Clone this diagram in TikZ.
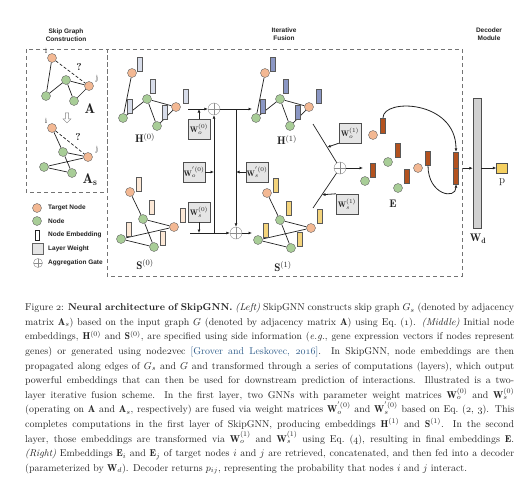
\documentclass[tikz,border=0pt]{standalone}
\usepackage{amsmath}
\usepackage{fontspec}
\newfontfamily\headfont{Liberation Sans}
\usetikzlibrary{arrows.meta,shapes.arrows}
\definecolor{ink}{HTML}{222222}
\definecolor{peach}{HTML}{F3B893}
\definecolor{leaf}{HTML}{A8CD97}
\definecolor{hpale}{HTML}{D8DDEA}
\definecolor{hdeep}{HTML}{8B97C4}
\definecolor{spale}{HTML}{FCE8D6}
\definecolor{sdeep}{HTML}{F4D47C}
\definecolor{rust}{HTML}{B3521F}
\definecolor{gold}{HTML}{F5D060}
\definecolor{cite}{HTML}{2E5C8A}

\tikzset{
  tgt/.style={circle,draw=ink!70,fill=peach,minimum size=9pt,inner sep=0pt},
  nd/.style={circle,draw=ink!70,fill=leaf,minimum size=9pt,inner sep=0pt},
  emb/.style={draw=ink!75,fill=#1,minimum width=5pt,minimum height=14pt,inner sep=0pt},
  wbox/.style={draw=ink!80,fill=black!10,minimum width=22pt,minimum height=20pt,
    inner sep=0pt,font=\fontsize{8}{8}\selectfont},
  gate/.style={circle,draw=black!45,minimum size=12pt,inner sep=0pt,
    path picture={\draw[black!45] (path picture bounding box.north)--(path picture bounding box.south)
      (path picture bounding box.west)--(path picture bounding box.east);}},
  link/.style={ink,line width=.7pt},
  flow/.style={ink,line width=.8pt,->},
  panel/.style={black!55,dash pattern=on 4pt off 3pt,line width=.6pt},
  heading/.style={font=\headfont\bfseries\fontsize{6.5}{7.5}\selectfont,align=center},
  legtext/.style={font=\headfont\bfseries\fontsize{6.5}{7.5}\selectfont,anchor=west,inner sep=0pt},
  lab/.style={font=\fontsize{11}{11}\selectfont,inner sep=0pt},
  tiny/.style={font=\fontsize{8}{8}\selectfont,inner sep=0pt},
}

\begin{document}
\begin{tikzpicture}[x=1pt,y=-1pt,>={Latex[length=3.5pt,width=3pt]},text=ink]
  \useasboundingbox (0,0) rectangle (527,501);

  % headings and frames
  \node[heading] (t1) at (66,35) {Skip Graph\\Construction};
  \node[heading] (t2) at (284,34) {Iterative\\Fusion};
  \node[heading] (t3) at (489,34) {Decoder\\Module};
  \draw[panel] (26,49) rectangle (107,192);
  \draw[panel] (107,49) rectangle (462,276);

  % skip graph construction
  \node[tgt] (ai) at (52,58) {};
  \node[nd] (am) at (66,80) {};
  \node[tgt] (aj) at (89,86) {};
  \node[nd] (al) at (46,96) {};
  \node[nd] (ar) at (74,101) {};
  \draw[link] (ai)--(al) (al)--(am) (am)--(aj) (am)--(ar) (ar)--(aj);
  \draw[link,dash pattern=on 3pt off 2pt] (ai)--(aj);
  \node[tiny] (ail) at (46,51) {i};
  \node[tiny] (ajl) at (97,79) {j};
  \node[tiny,font=\bfseries\fontsize{10}{10}\selectfont] (aq) at (79,67) {?};
  \node[lab,font=\fontsize{14}{14}\selectfont] (alab) at (90,109) {$\mathbf{A}$};
  \node[single arrow,draw=black!50,fill=white,shape border rotate=270,minimum height=10pt,
    minimum width=8pt,single arrow head extend=1.5pt,inner sep=.8pt] (down) at (67,117) {};

  \node[tgt] (bi) at (52,128) {};
  \node[nd] (bm) at (63,152) {};
  \node[tgt] (bj) at (88,157) {};
  \node[nd] (bl) at (44,167) {};
  \node[nd] (br) at (72,173) {};
  \draw[link] (bi)--(bm) (bm)--(bj) (bl)--(bj) (bm)--(br) (bl)--(br);
  \draw[link,dash pattern=on 3pt off 2pt] (bi)--(bj);
  \node[tiny] (bil) at (46,121) {i};
  \node[tiny] (bjl) at (97,150) {j};
  \node[tiny,font=\bfseries\fontsize{10}{10}\selectfont] (bq) at (78,137) {?};
  \node[lab,font=\fontsize{14}{14}\selectfont] (blab) at (90,180) {$\mathbf{A}_{\mathbf{s}}$};

  % legend
  \node[tgt] (ktgt) at (37,208) {};
  \node[legtext] (ktgtl) at (48,208) {Target Node};
  \node[nd] (knd) at (37,221) {};
  \node[legtext] (kndl) at (48,221) {Node};
  \node[draw=ink,fill=white,minimum width=4pt,minimum height=10pt,inner sep=0pt] (kemb) at (37,235) {};
  \node[legtext] (kembl) at (48,235) {Node Embedding};
  \node[draw=ink!70,fill=black!10,minimum size=11pt,inner sep=0pt] (kw) at (38,249) {};
  \node[legtext] (kwl) at (48,249) {Layer Weight};
  \node[gate,minimum size=9pt] (kgate) at (38,263) {};
  \node[legtext] (kgatel) at (48,263) {Aggregation Gate};

  % embedding graphs
  \foreach \g/\gx/\gy/\bc in {h0/132/73/hpale,h1/265/73/hdeep}{
    \begin{scope}[shift={(\gx,\gy)}]
      \node[tgt] (\g-i) at (0,0) {};
      \node[nd] (\g-m) at (15,26) {};
      \node[tgt] (\g-j) at (44,34) {};
      \node[nd] (\g-l) at (-9,45) {};
      \node[nd] (\g-r) at (25,53) {};
      \draw[link] (\g-i)--(\g-l) (\g-l)--(\g-m) (\g-m)--(\g-j) (\g-m)--(\g-r) (\g-r)--(\g-j);
      \node[emb=\bc] (\g-bi) at (8,-9) {};
      \node[emb=\bc] (\g-bm) at (21,13) {};
      \node[emb=\bc] (\g-bj) at (54,23.5) {};
      \node[emb=\bc] (\g-bl) at (-2,33) {};
      \node[emb=\bc] (\g-br) at (33,39.5) {};
    \end{scope}
  }
  \foreach \g/\gx/\gy/\bc in {s0/130/192/spale,s1/267/193/sdeep}{
    \begin{scope}[shift={(\gx,\gy)}]
      \node[tgt] (\g-i) at (0,0) {};
      \node[nd] (\g-m) at (13,27) {};
      \node[tgt] (\g-j) at (44,35) {};
      \node[nd] (\g-l) at (-9,47) {};
      \node[nd] (\g-r) at (24,55) {};
      \draw[link] (\g-i)--(\g-m) (\g-m)--(\g-j) (\g-l)--(\g-j) (\g-m)--(\g-r) (\g-l)--(\g-r);
      \node[emb=\bc] (\g-bi) at (9,-7.5) {};
      \node[emb=\bc] (\g-bm) at (22,15.5) {};
      \node[emb=\bc] (\g-bj) at (53,23.5) {};
      \node[emb=\bc] (\g-bl) at (-1,37) {};
      \node[emb=\bc] (\g-br) at (33,46.5) {};
    \end{scope}
  }
  \node[lab] (h0lab) at (145,138) {$\mathbf{H}^{(0)}$};
  \node[lab] (h1lab) at (287,140) {$\mathbf{H}^{(1)}$};
  \node[lab] (s0lab) at (145,265) {$\mathbf{S}^{(0)}$};
  \node[lab] (s1lab) at (283,267) {$\mathbf{S}^{(1)}$};

  % first layer fusion
  \coordinate (h0out) at (188,109);
  \coordinate (h1in) at (252,109);
  \coordinate (s0out) at (190,233);
  \coordinate (s1in) at (252,233);
  \node[gate] (g1) at (214,109) {};
  \node[gate] (g2) at (236,233) {};
  \node[wbox] (wo0) at (199,129) {$\mathbf{W}_o^{(0)}$};
  \node[wbox] (wop0) at (194,172) {$\mathbf{W}_o^{'(0)}$};
  \node[wbox] (wsp0) at (257,172) {$\mathbf{W}_s^{'(0)}$};
  \node[wbox] (ws0) at (199,212) {$\mathbf{W}_s^{(0)}$};
  \draw[flow] (h0out) -- (g1);
  \draw[flow] (g1) -- (h1in);
  \draw[flow] (s0out) -- (g2);
  \draw[flow] (g2) -- (s1in);
  \draw[flow] (g2 |- h0out) -- (g2);
  \draw[flow] (g1 |- s0out) -- (g1);
  \draw[flow] (wo0) -- (wo0 |- h0out);
  \draw[flow] (ws0) -- (ws0 |- s0out);
  \draw[flow] (wop0) -- (g1 |- wop0);
  \draw[flow] (wsp0) -- (g2 |- wsp0);

  % second layer
  \coordinate (h1out) at (313,124);
  \coordinate (s1out) at (313,208);
  \coordinate (eout) at (363,168);
  \node[gate] (g3) at (340,168) {};
  \draw[link] (h1out) -- coordinate[pos=.6] (hmid) (g3);
  \draw[link] (s1out) -- coordinate[pos=.38] (smid) (g3);
  \node[wbox] (wo1) at (350,133) {$\mathbf{W}_o^{(1)}$};
  \node[wbox] (ws1) at (347,204) {$\mathbf{W}_s^{(1)}$};
  \draw[flow] (wo1.south west) -- (hmid);
  \draw[flow] (ws1.north west) -- (smid);
  \draw[flow] (g3) -- (eout);

  % final embeddings
  \node[tgt] (ei) at (373,135) {};
  \node[emb=rust,minimum height=15pt] (ebi) at (383,125.5) {};
  \node[nd] (e1) at (388,162) {};
  \node[emb=rust] (eb1) at (398,150) {};
  \node[nd] (e2) at (365,181) {};
  \node[emb=rust] (eb2) at (373,170.5) {};
  \node[nd] (e3) at (398,188) {};
  \node[emb=rust] (eb3) at (407,176.5) {};
  \node[tgt] (ej) at (418,168) {};
  \node[emb=rust] (ebj) at (428,158.5) {};
  \node[emb=rust,minimum height=16pt] (cat1) at (456,160) {};
  \node[emb=rust,minimum height=16pt] (cat2) at (456,176) {};
  \node[lab] (elab) at (393,204) {$\mathbf{E}$};
  \draw[flow] (ebi.north) .. controls (383,98) and (456,100) .. (cat1.north);
  \draw[flow] (ebj.south) .. controls (428,195) and (456,200) .. (cat2.south);

  % decoder
  \node[draw=ink!80,fill=black!18,minimum width=8pt,minimum height=130pt,inner sep=0pt] (wd) at (477,163) {};
  \node[lab] (wdlab) at (478,239) {$\mathbf{W}_{\mathbf{d}}$};
  \node[draw=ink!80,fill=gold,minimum width=11pt,minimum height=10pt,inner sep=0pt] (p) at (502,168) {};
  \node[lab] (plab) at (502,182) {p};
  \draw[flow] ([xshift=4pt]cat1.south east) -- (wd.west |- cat1.south);
  \draw[flow] (wd.east |- p) -- (p);

  % caption
  \node[anchor=north west,inner sep=0pt,text width=489pt,align=justify,
    font=\fontsize{9.9}{14.6}\selectfont] (cap) at (25,303) {\hyphenpenalty=10000\relax Figure \legacyoldstylenums{2}: \textbf{Neural architecture of SkipGNN.} \textit{(Left)} SkipGNN constructs skip graph $G_s$ (denoted by adjacency\linebreak
    matrix $\mathbf{A}_s$) based on the input graph $G$ (denoted by adjacency matrix $\mathbf{A}$) using Eq.~(\legacyoldstylenums{1}). \textit{(Middle)} Initial node\linebreak
    embeddings, $\mathbf{H}^{(0)}$ and $\mathbf{S}^{(0)}$, are specified using side information (\textit{e.g.}, gene expression vectors if nodes represent\linebreak
    genes) or generated using node\legacyoldstylenums{2}vec {\color{cite}[Grover and Leskovec, \legacyoldstylenums{2016}]}. In SkipGNN, node embeddings are then\linebreak
    propagated along edges of $G_s$ and $G$ and transformed through a series of computations (layers), which output\linebreak
    powerful embeddings that can then be used for downstream prediction of interactions. Illustrated is a two-\linebreak
    layer iterative fusion scheme. In the first layer, two GNNs with parameter weight matrices $\mathbf{W}_o^{(0)}$ and $\mathbf{W}_s^{(0)}$\linebreak
    (operating on $\mathbf{A}$ and $\mathbf{A}_s$, respectively) are fused via weight matrices $\mathbf{W}_o^{'(0)}$ and $\mathbf{W}_s^{'(0)}$ based on Eq.~(\legacyoldstylenums{2}, \legacyoldstylenums{3}). This\linebreak
    completes computations in the first layer of SkipGNN, producing embeddings $\mathbf{H}^{(1)}$ and $\mathbf{S}^{(1)}$. In the second\linebreak
    layer, those embeddings are transformed via $\mathbf{W}_o^{(1)}$ and $\mathbf{W}_s^{(1)}$ using Eq.~(\legacyoldstylenums{4}), resulting in final embeddings $\mathbf{E}$.\linebreak
    \textit{(Right)} Embeddings $\mathbf{E}_i$ and $\mathbf{E}_j$ of target nodes $i$ and $j$ are retrieved, concatenated, and then fed into a decoder\linebreak
    (parameterized by $\mathbf{W}_d$). Decoder returns $p_{ij}$, representing the probability that nodes $i$ and $j$ interact.};
\end{tikzpicture}
\end{document}
